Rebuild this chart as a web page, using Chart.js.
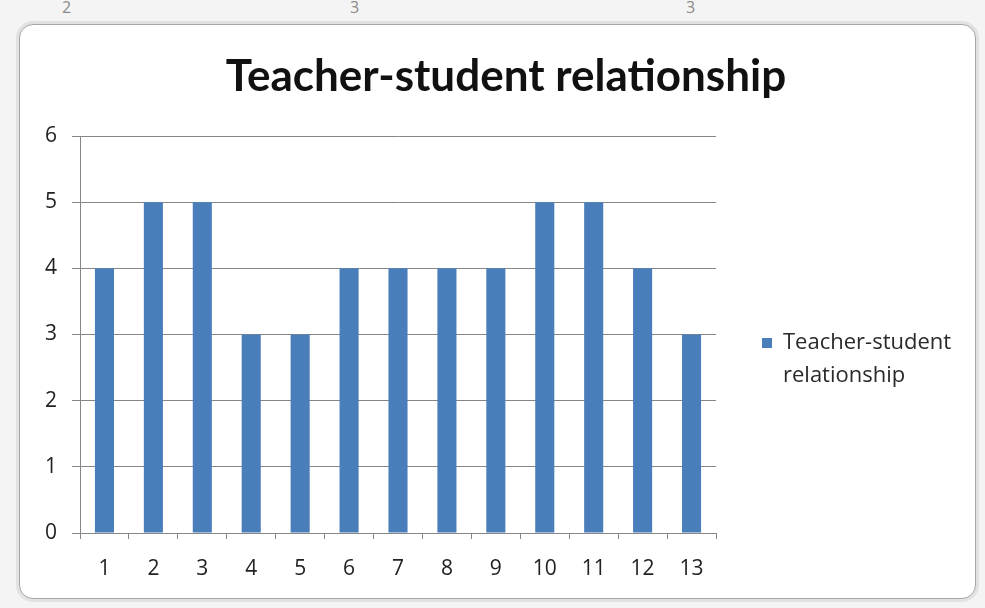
<!DOCTYPE html>
<html>
<head>
<meta charset="utf-8">
<script src="https://cdn.jsdelivr.net/npm/chart.js@4.4.1/dist/chart.umd.min.js"></script>
<style>
  body { margin: 0; width: 985px; height: 608px; background: #ffffff; position: relative; overflow: hidden; font-family: "Open Sans", sans-serif; }
  .sheet { position: absolute; left: 0; top: 0; width: 985px; height: 608px; background: #f4f4f4; }
  .ruler { position: absolute; top: -4px; color: #8a8a8a; font-size: 16px; }
  #frame { position: absolute; left: 19px; top: 24px; width: 955px; height: 573px; border: 1px solid #a6a6a6; border-radius: 14px; background: #fff; box-shadow: 0 0 0 3px #e2e2e2; }
  canvas { position: absolute; left: 0; top: 0; }
</style>
</head>
<body>
<div class="sheet">
  <div class="ruler" style="left:62px">2</div>
  <div class="ruler" style="left:350px">3</div>
  <div class="ruler" style="left:686px">3</div>
</div>
<div id="frame"><canvas id="chart" width="955" height="573"></canvas></div>
<script>
// chart data
const titleText = "Teacher-student relationship";
const categories = ["1", "2", "3", "4", "5", "6", "7", "8", "9", "10", "11", "12", "13"];
const scores = [4, 5, 5, 3, 3, 4, 4, 4, 4, 5, 5, 4, 3];
const seriesName = "Teacher-student relationship";
const legendLines = ["Teacher-student", "relationship"];
const yTicks = [0, 1, 2, 3, 4, 5, 6];

const gridGray = '#868686';
const legendWidth = 259;

// keep the legend column a fixed width so the plot ends where Excel put it
const legendWidthFix = {
    id: 'legendWidthFix',
    beforeLayout(c) {
        const lg = c.legend;
        if (lg && !lg._fixed) {
            const fit = lg.fit.bind(lg);
            lg.fit = function() { fit(); this.width = legendWidth; };
            lg._fixed = true;
        }
    }
};

let chart = new Chart(document.getElementById("chart").getContext('2d'), {
    type: 'bar',
    data: {
        labels: categories,
        datasets: [{
            label: seriesName,
            data: scores,
            backgroundColor: '#4a7ebb',
            borderWidth: 0,
            categoryPercentage: 1,
            barPercentage: 0.39
        }]
    },
    options: {
        responsive: false,
        animation: false,
        layout: { padding: { left: 17, right: 0, top: 0, bottom: 0 } },
        plugins: {
            title: {
                display: true,
                text: titleText,
                color: '#111',
                font: { family: 'Lato', size: 44, weight: 'bold', lineHeight: 1.2 },
                padding: { top: 25.6, bottom: 32.6 }
            },
            legend: {
                position: 'right',
                align: 'center',
                title: { display: true, text: ' ', font: { size: 10, lineHeight: 1 }, padding: { top: 97, bottom: 0 } },
                labels: {
                    boxWidth: 10,
                    boxHeight: 10,
                    padding: 46,
                    color: '#2a2a2a',
                    font: { family: 'Open Sans', size: 22, lineHeight: 1.5 },
                    generateLabels: function(c) {
                        const items = Chart.defaults.plugins.legend.labels.generateLabels(c);
                        items.forEach(it => { it.text = legendLines; });
                        return items;
                    }
                }
            },
            tooltip: { enabled: false }
        },
        scales: {
            x: {
                grid: { display: true, drawOnChartArea: false, offset: true, tickLength: 6, color: gridGray },
                border: { color: gridGray },
                ticks: { color: '#222', padding: 17, font: { family: 'Open Sans', size: 21 } },
                afterFit: function(scale) { scale.height = 65; }
            },
            y: {
                min: 0,
                max: 6,
                afterBuildTicks: function(scale) { scale.ticks = yTicks.map(v => ({ value: v })); },
                grid: { color: gridGray, tickLength: 8 },
                border: { color: gridGray },
                ticks: { color: '#222', padding: 15, font: { family: 'Open Sans', size: 21 } },
                afterFit: function(scale) { scale.width = 43; }
            }
        }
    },
    plugins: [legendWidthFix]
});
</script>
</body>
</html>
